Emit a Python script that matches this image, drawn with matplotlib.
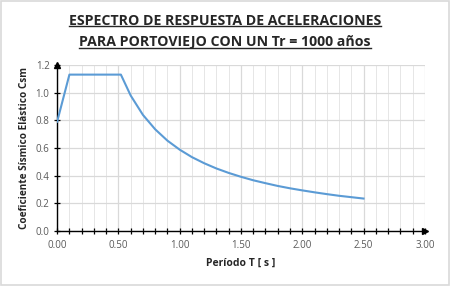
import numpy as np
import matplotlib
matplotlib.use('Agg')
import matplotlib.pyplot as plt
from matplotlib.patches import Rectangle
from matplotlib.lines import Line2D

# spectrum
periodo = [0.00, 0.10, 0.52, 0.60, 0.70, 0.80, 0.90, 1.00, 1.10, 1.20, 1.30,
           1.40, 1.50, 1.60, 1.70, 1.80, 1.90, 2.00, 2.10, 2.20, 2.30, 2.40, 2.50]
csm = [0.79, 1.13, 1.13, 0.979, 0.839, 0.735, 0.653, 0.588, 0.534, 0.490, 0.452,
       0.420, 0.392, 0.367, 0.346, 0.326, 0.309, 0.294, 0.280, 0.267, 0.255, 0.245, 0.235]

x_major = [0.0, 0.5, 1.0, 1.5, 2.0, 2.5, 3.0]
y_major = [0.0, 0.2, 0.4, 0.6, 0.8, 1.0, 1.2]

plt.rcParams['font.family'] = ['Open Sans', 'DejaVu Sans']

fig = plt.figure(figsize=(4.5, 2.86), dpi=100)
fig.patches.append(Rectangle((0.003, 0.004), 0.994, 0.992, transform=fig.transFigure,
                             fill=False, edgecolor='#d9d9d9', linewidth=1.2))

ax = fig.add_axes([0.127, 0.192, 0.817, 0.581])
ax.plot(periodo, csm, color='#5b9bd5', linewidth=1.5, zorder=3)

ax.set_xlim(0, 3.0)
ax.set_ylim(0, 1.2)
ax.set_xticks(x_major)
ax.set_xticklabels([f'{v:.2f}' for v in x_major])
ax.set_xticks(np.arange(0, 3.01, 0.1), minor=True)
ax.set_yticks(y_major)
ax.set_yticklabels([f'{v:.1f}' for v in y_major])

ax.grid(which='major', color='#d9d9d9', linewidth=0.9)
ax.grid(which='minor', axis='x', color='#e6e6e6', linewidth=0.7)
ax.set_axisbelow(True)

for s in ['top', 'right']:
    ax.spines[s].set_visible(False)
for s in ['left', 'bottom']:
    ax.spines[s].set_color('black')
    ax.spines[s].set_linewidth(1.0)

ax.tick_params(which='both', direction='inout', length=5, width=0.9, color='black')
ax.tick_params(axis='x', which='minor', length=5)
ax.tick_params(labelsize=7, labelcolor='#595959')
ax.tick_params(axis='x', pad=4)
ax.tick_params(axis='y', pad=3)

# arrow heads on axes
ax.plot(1, 0, '>', color='black', markersize=4, transform=ax.transAxes, clip_on=False)
ax.plot(0, 1, '^', color='black', markersize=4, transform=ax.transAxes, clip_on=False)

ax.set_xlabel('Período T [ s ]', fontsize=7.5, fontweight='bold', color='#262626',
              labelpad=5)
ax.set_ylabel('Coeficiente Sísmico Elástico Csm', fontsize=7.2, fontweight='bold',
              color='#262626', labelpad=4)

t1 = fig.text(0.5, 0.927, 'ESPECTRO DE RESPUESTA DE ACELERACIONES', ha='center',
              va='center', fontsize=10.2, fontweight='bold', color='#262626')
t2 = fig.text(0.5, 0.852, 'PARA PORTOVIEJO CON UN Tr = 1000 años', ha='center',
              va='center', fontsize=10.2, fontweight='bold', color='#262626')

fig.canvas.draw()
r = fig.canvas.get_renderer()
for t in [t1, t2]:
    bb = t.get_window_extent(r).transformed(fig.transFigure.inverted())
    fig.add_artist(Line2D([bb.x0, bb.x1], [bb.y0 + 0.005, bb.y0 + 0.005],
                          transform=fig.transFigure, color='#262626', linewidth=1.0))

fig.savefig('out.png', dpi=100)
